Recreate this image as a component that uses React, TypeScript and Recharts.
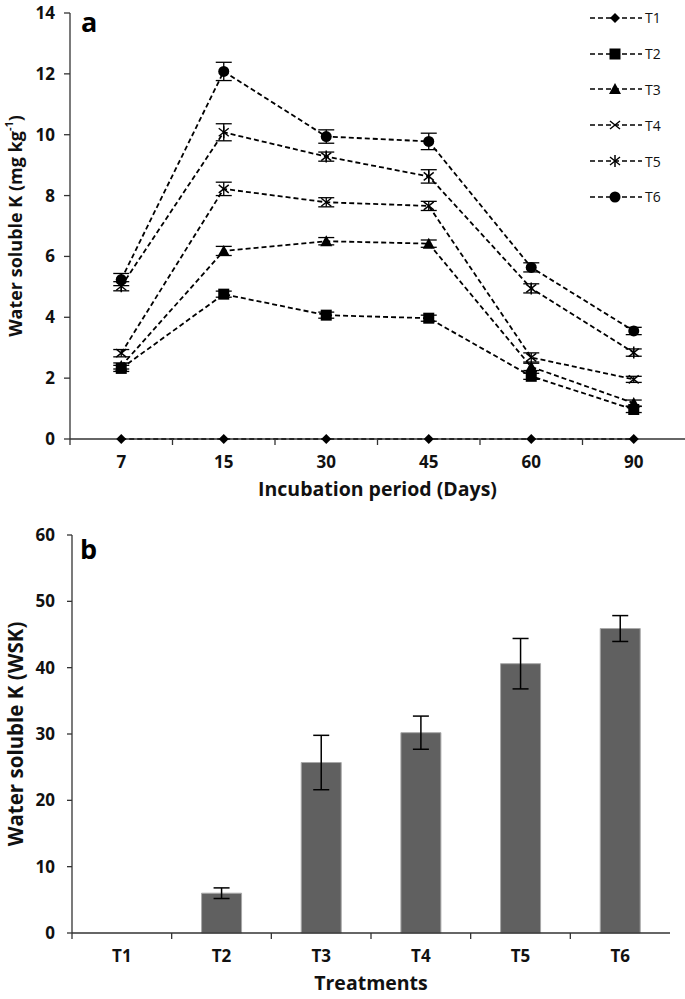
import React from "react";
import {
  LineChart,
  Line,
  BarChart,
  Bar,
  XAxis,
  YAxis,
  Legend,
  ErrorBar,
} from "recharts";

/* ---- panel a: water soluble K over incubation ---- */
const DAYS = ["7", "15", "30", "45", "60", "90"];
const T1 = [0, 0, 0, 0, 0, 0];
const T2 = [2.32, 4.76, 4.07, 3.97, 2.06, 0.97];
const T3 = [2.4, 6.18, 6.5, 6.42, 2.37, 1.18];
const T4 = [2.82, 8.22, 7.78, 7.66, 2.68, 1.96];
const T5 = [5.02, 10.08, 9.28, 8.63, 4.95, 2.84];
const T6 = [5.24, 12.08, 9.94, 9.78, 5.64, 3.55];
const E1 = [0, 0, 0, 0, 0, 0];
const E2 = [0.1, 0.1, 0.1, 0.1, 0.1, 0.1];
const E3 = [0.1, 0.15, 0.12, 0.12, 0.12, 0.1];
const E4 = [0.12, 0.22, 0.15, 0.15, 0.15, 0.1];
const E5 = [0.15, 0.28, 0.15, 0.22, 0.15, 0.12];
const E6 = [0.2, 0.3, 0.22, 0.27, 0.15, 0.12];
const Y_TICKS_A = [0, 2, 4, 6, 8, 10, 12, 14];

/* ---- panel b: cumulative WSK by treatment ---- */
const TREATMENTS = ["T1", "T2", "T3", "T4", "T5", "T6"];
const WSK = [0, 6.0, 25.7, 30.2, 40.6, 45.9];
const WSK_ERR = [0, 0.8, 4.1, 2.5, 3.8, 1.95];
const Y_TICKS_B = [0, 10, 20, 30, 40, 50, 60];

const SERIES = [
  { key: "T1", vals: T1, err: E1, shape: "diamond" },
  { key: "T2", vals: T2, err: E2, shape: "square" },
  { key: "T3", vals: T3, err: E3, shape: "triangle" },
  { key: "T4", vals: T4, err: E4, shape: "cross" },
  { key: "T5", vals: T5, err: E5, shape: "star" },
  { key: "T6", vals: T6, err: E6, shape: "circle" },
];

const lineData = DAYS.map((d, i) => {
  const row: Record<string, any> = { day: d };
  SERIES.forEach((s) => {
    row[s.key] = s.vals[i];
    row["e" + s.key] = s.err[i];
  });
  return row;
});

const barData = TREATMENTS.map((t, i) => ({ name: t, wsk: WSK[i], err: WSK_ERR[i] }));

const FONT = "'Open Sans', sans-serif";
const AXIS = "#333";
const W = 685;

function Marker({ shape, cx, cy }: { shape: string; cx: number; cy: number }) {
  if (cx == null || cy == null) return null;
  const k = "#000";
  switch (shape) {
    case "diamond":
      return <polygon points={`${cx},${cy - 5} ${cx + 5},${cy} ${cx},${cy + 5} ${cx - 5},${cy}`} fill={k} />;
    case "square":
      return <rect x={cx - 5.5} y={cy - 5.5} width={11} height={11} fill={k} />;
    case "triangle":
      return <polygon points={`${cx},${cy - 6} ${cx + 6},${cy + 5} ${cx - 6},${cy + 5}`} fill={k} />;
    case "cross":
      return (
        <g stroke={k} strokeWidth={1.5}>
          <line x1={cx - 5} y1={cy - 4} x2={cx + 5} y2={cy + 4} />
          <line x1={cx - 5} y1={cy + 4} x2={cx + 5} y2={cy - 4} />
        </g>
      );
    case "star":
      return (
        <g stroke={k} strokeWidth={1.5}>
          <line x1={cx - 5} y1={cy - 4} x2={cx + 5} y2={cy + 4} />
          <line x1={cx - 5} y1={cy + 4} x2={cx + 5} y2={cy - 4} />
          <line x1={cx} y1={cy - 6} x2={cx} y2={cy + 6} />
        </g>
      );
    default:
      return <circle cx={cx} cy={cy} r={5.5} fill={k} />;
  }
}

// Excel-style category tick: label under the point, tick marks on band edges
function bandTick(band: number, count: number) {
  return (props: any) => {
    const { x, y, payload, index } = props;
    return (
      <g>
        <text x={x} y={y + 29} textAnchor="middle" fontFamily={FONT} fontWeight={700} fontSize={17} fill="#111">
          {payload.value}
        </text>
        {index === 0 && <line x1={x - band / 2} x2={x - band / 2} y1={y} y2={y + 6} stroke={AXIS} strokeWidth={1.3} />}
        {index < count - 1 && <line x1={x + band / 2} x2={x + band / 2} y1={y} y2={y + 6} stroke={AXIS} strokeWidth={1.3} />}
      </g>
    );
  };
}

function yTitle(size: number, main: string, sup?: string, tail?: string) {
  return (props: any) => {
    const vb = props.viewBox;
    const cx = vb.x + 15;
    const cy = vb.y + vb.height / 2;
    return (
      <text
        x={cx}
        y={cy}
        transform={`rotate(-90, ${cx}, ${cy})`}
        textAnchor="middle"
        dominantBaseline="central"
        fontFamily={FONT}
        fontWeight={700}
        fontSize={size}
        fill="#111"
      >
        {main}
        {sup && (
          <tspan dy={-7} fontSize={11}>
            {sup}
          </tspan>
        )}
        {tail && <tspan dy={7}>{tail}</tspan>}
      </text>
    );
  };
}

function xTitle(text: string, baselineGap: number) {
  return (props: any) => {
    const vb = props.viewBox;
    return (
      <text
        x={vb.x + vb.width / 2}
        y={vb.y + vb.height - baselineGap}
        textAnchor="middle"
        fontFamily={FONT}
        fontWeight={700}
        fontSize={19.5}
        fill="#111"
      >
        {text}
      </text>
    );
  };
}

function LegendBox(props: any) {
  const items = props.payload || [];
  return (
    <div style={{ fontFamily: FONT, fontSize: 14, color: "#111" }}>
      {items.map((it: any) => {
        const s = SERIES.find((q) => q.key === it.value);
        return (
          <div key={it.value} style={{ display: "flex", alignItems: "center", height: 35.8 }}>
            <svg width={56} height={16}>
              <line x1={2} x2={54} y1={8} y2={8} stroke="#000" strokeWidth={1.6} strokeDasharray="5 3" />
              <Marker shape={s ? s.shape : "circle"} cx={27} cy={8} />
            </svg>
            <span style={{ marginLeft: 1 }}>{it.value}</span>
          </div>
        );
      })}
    </div>
  );
}

const letter: React.CSSProperties = {
  position: "absolute",
  fontFamily: FONT,
  fontWeight: 700,
  fontSize: 27,
  color: "#000",
  lineHeight: 1,
};

export default function App() {
  const bandA = (W - 70) / 6;
  const bandB = (W - 15 - 72) / 6;
  return (
    <div style={{ position: "absolute", left: 0, top: 0, width: W, height: 999, background: "#fff" }}>
      <div style={{ position: "relative", width: W, height: 505 }}>
        <LineChart width={W} height={505} data={lineData} margin={{ top: 13, right: 0, left: 0, bottom: 0 }}>
          <XAxis
            dataKey="day"
            height={66}
            padding={{ left: bandA / 2, right: bandA / 2 }}
            tickLine={false}
            tickSize={0}
            tickMargin={0}
            axisLine={{ stroke: AXIS, strokeWidth: 1.3 }}
            tick={bandTick(bandA, DAYS.length)}
            interval={0}
            label={xTitle("Incubation period (Days)", 9)}
          />
          <YAxis
            width={70}
            domain={[0, 14]}
            ticks={Y_TICKS_A}
            interval={0}
            tickSize={6}
            tickMargin={9}
            axisLine={{ stroke: AXIS, strokeWidth: 1.3 }}
            tickLine={{ stroke: AXIS, strokeWidth: 1.3 }}
            tick={{ fontFamily: FONT, fontWeight: 700, fontSize: 17, fill: "#111" }}
            label={yTitle(18, "Water soluble K (mg kg", "-1", ")")}
          />
          <Legend
            layout="vertical"
            align="center"
            verticalAlign="middle"
            content={LegendBox}
            wrapperStyle={{ left: 588, top: 0, width: 97, height: 215 }}
          />
          {SERIES.map((s) => (
            <Line
              key={s.key}
              dataKey={s.key}
              name={s.key}
              stroke="#000"
              strokeWidth={1.8}
              strokeDasharray="5 3"
              isAnimationActive={false}
              dot={(p: any) => <Marker key={`${s.key}-${p.index}`} shape={s.shape} cx={p.cx} cy={p.cy} />}
              activeDot={false}
            >
              <ErrorBar dataKey={"e" + s.key} width={8} stroke="#000" strokeWidth={1.3} />
            </Line>
          ))}
        </LineChart>
        <div style={{ ...letter, left: 81, top: 8 }}>a</div>
      </div>
      <div style={{ position: "relative", width: W, height: 494 }}>
        <BarChart
          width={W}
          height={494}
          data={barData}
          margin={{ top: 30, right: 15, left: 0, bottom: 0 }}
          barCategoryGap="30%"
        >
          <XAxis
            dataKey="name"
            height={66}
            tickLine={false}
            tickSize={0}
            tickMargin={0}
            axisLine={{ stroke: AXIS, strokeWidth: 1.3 }}
            tick={bandTick(bandB, TREATMENTS.length)}
            interval={0}
            label={xTitle("Treatments", 9)}
          />
          <YAxis
            width={72}
            domain={[0, 60]}
            ticks={Y_TICKS_B}
            interval={0}
            tickSize={5}
            tickMargin={12}
            axisLine={{ stroke: AXIS, strokeWidth: 1.3 }}
            tickLine={{ stroke: AXIS, strokeWidth: 1.3 }}
            tick={{ fontFamily: FONT, fontWeight: 700, fontSize: 17, fill: "#111" }}
            label={yTitle(20.5, "Water soluble K (WSK)")}
          />
          <Bar dataKey="wsk" fill="#606060" stroke="#a8a8a8" strokeWidth={1} isAnimationActive={false}>
            <ErrorBar dataKey="err" width={8} stroke="#000" strokeWidth={1.5} />
          </Bar>
        </BarChart>
        <div style={{ ...letter, left: 80, top: 30 }}>b</div>
      </div>
    </div>
  );
}
